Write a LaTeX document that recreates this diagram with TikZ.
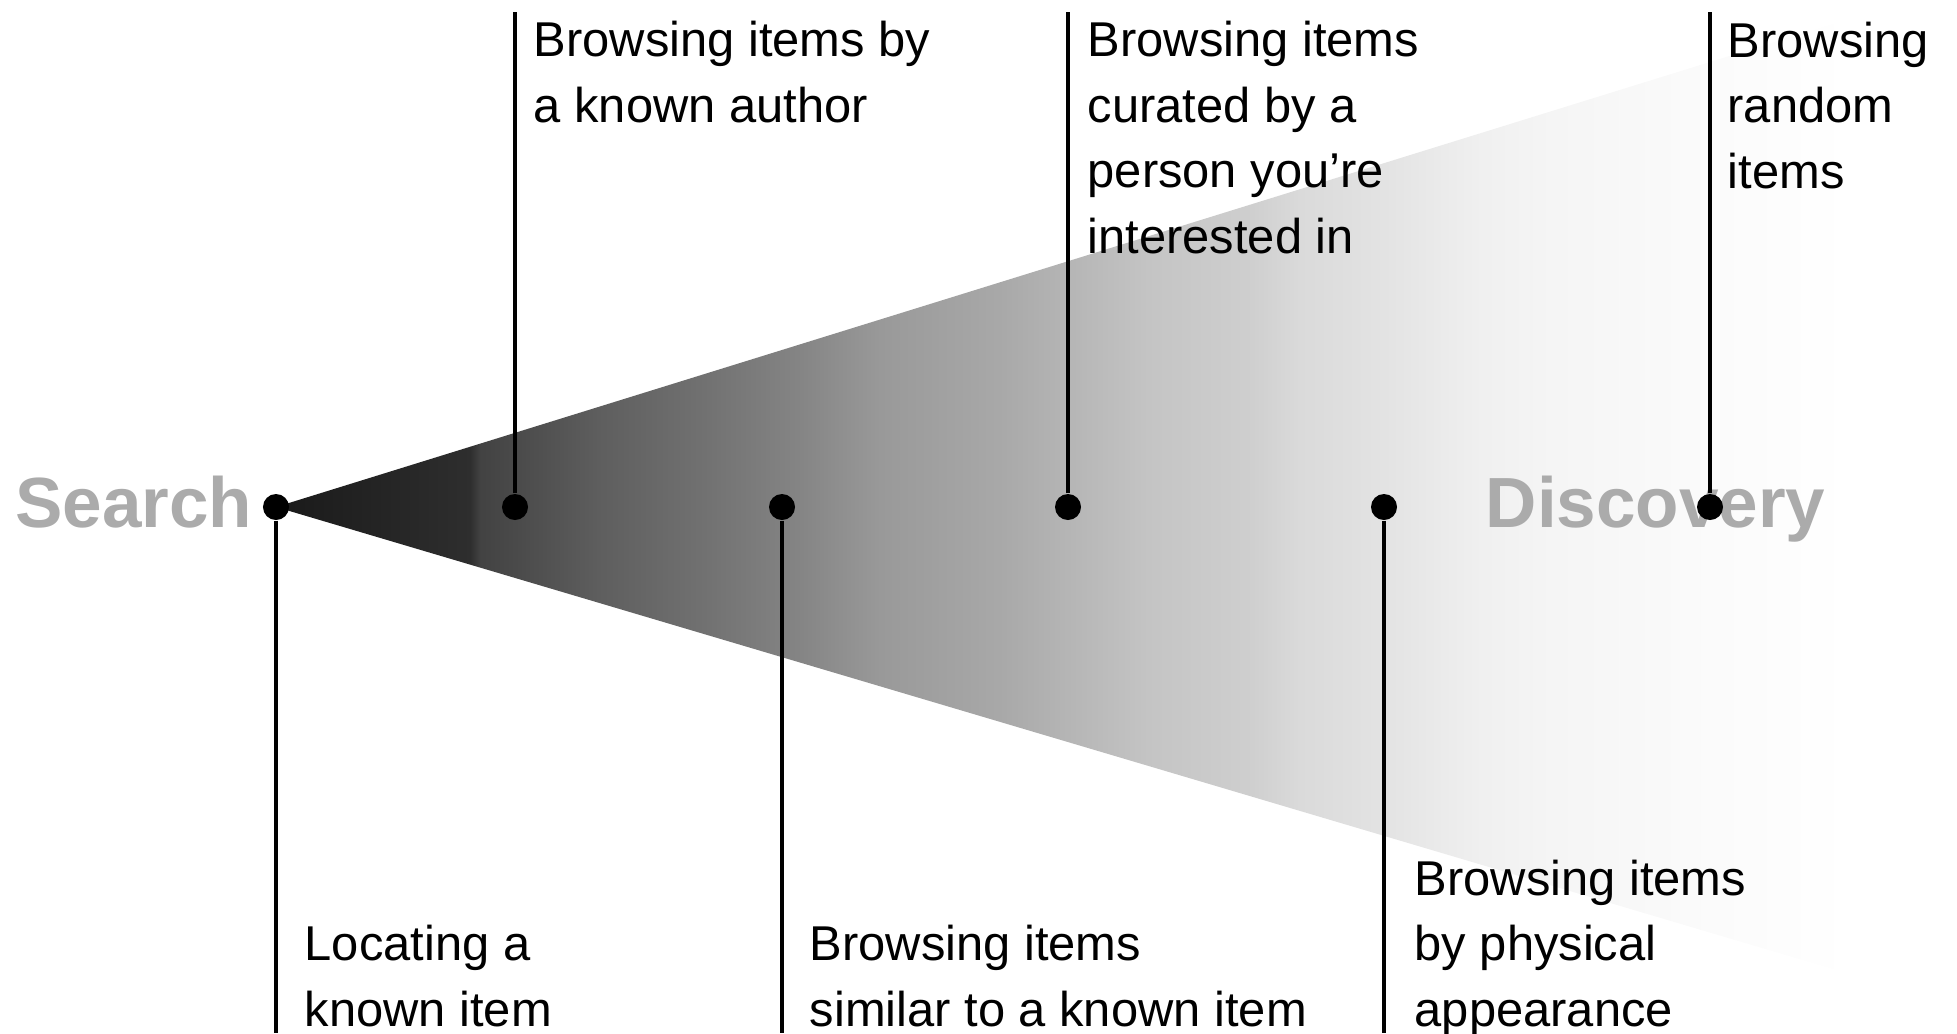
\documentclass[tikz,border=0pt]{standalone}
\usepackage{fontspec}
\setmainfont{Liberation Sans}
\usetikzlibrary{positioning}

\pgfdeclarehorizontalshading{conefade}{100bp}{%
  color(0bp)=(black!90); color(25bp)=(black!90);
  color(30.97bp)=(black!82); color(31.28bp)=(black!74);
  color(32.36bp)=(black!71); color(34.98bp)=(black!63);
  color(38.05bp)=(black!56); color(41.13bp)=(black!48);
  color(43.6bp)=(black!40); color(47.29bp)=(black!34);
  color(49.38bp)=(black!29); color(51.91bp)=(black!23);
  color(54.99bp)=(black!19); color(56.53bp)=(black!14.5);
  color(59.11bp)=(black!11); color(62.07bp)=(black!6);
  color(64.22bp)=(black!4); color(68.23bp)=(black!2);
  color(73.46bp)=(white); color(100bp)=(white)}

\begin{document}
\begin{tikzpicture}[x=0.01cm, y=-0.01cm,
    every node/.style={inner sep=0pt},
    bullet/.style={circle, fill=black, minimum size=0.26cm},
    stem/.style={line width=0.95pt},
    lbl/.style={anchor=base west, align=left, font=\fontsize{13.9}{18.6}\selectfont},
    pole/.style={text=black!33, font=\fontsize{20.2}{24}\selectfont\bfseries}]
  \useasboundingbox (0,0) rectangle (1957,1033);

  \shade[shading=conefade] (276,507) -- (1900,3) -- (1900,989) -- cycle;

  \node[pole, anchor=base east] (search) at (253,527) {Search};
  \node[pole, anchor=base west] (discovery) at (1485,527) {Discovery};

  \node[bullet] (known) at (276,507) {};
  \node[bullet] (author) at (515,507) {};
  \node[bullet] (similar) at (782,507) {};
  \node[bullet] (curated) at (1068,507) {};
  \node[bullet] (physical) at (1384,507) {};
  \node[bullet] (random) at (1710,507) {};

  \coordinate (knownend) at (276,1033);
  \coordinate (authorend) at (515,12);
  \coordinate (similarend) at (782,1033);
  \coordinate (curatedend) at (1068,12);
  \coordinate (physicalend) at (1384,1033);
  \coordinate (randomend) at (1710,12);

  \draw[stem] (known) -- (knownend);
  \draw[stem] (author) -- (authorend);
  \draw[stem] (similar) -- (similarend);
  \draw[stem] (curated) -- (curatedend);
  \draw[stem] (physical) -- (physicalend);
  \draw[stem] (random) -- (randomend);

  % anchor base = last line
  \node[lbl] (knownlbl) at (304,1026) {Locating a\\known item};
  \node[lbl] (authorlbl) at (533,122) {Browsing items by\\a known author};
  \node[lbl] (similarlbl) at (809,1026) {Browsing items\\similar to a known item};
  \node[lbl] (curatedlbl) at (1087,253) {Browsing items\\curated by a\\person you’re\\interested in};
  \node[lbl] (physicallbl) at (1414,1026) {Browsing items\\by physical\\appearance};
  \node[lbl] (randomlbl) at (1727,188) {Browsing\\random\\items};
\end{tikzpicture}
\end{document}
